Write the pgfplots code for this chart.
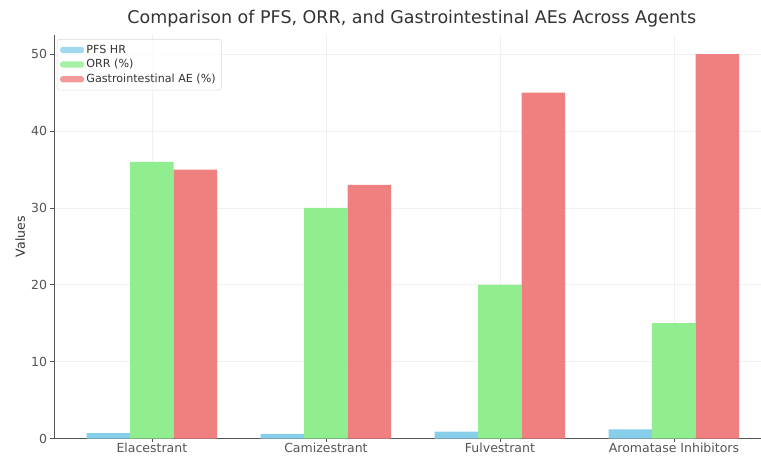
\documentclass[border=0pt]{standalone}
\usepackage{pgfplots}
\pgfplotsset{compat=1.18}
\usepackage{fontspec}
\setmainfont{DejaVu Sans}
\definecolor{pfs}{HTML}{87CEEB}
\definecolor{orr}{HTML}{90EE90}
\definecolor{gi}{HTML}{F08080}
\definecolor{spine}{HTML}{555555}
\definecolor{txt}{HTML}{333333}
\begin{document}
\begin{tikzpicture}
\begin{axis}[
  at={(0,0)}, anchor=south west,
  scale only axis,
  width=565.6pt, height=322.8pt,
  xmin=-0.5625, xmax=3.5,
  ymin=0, ymax=52.5,
  axis x line*=bottom, axis y line*=left,
  axis line style={spine, line width=0.8pt},
  xtick={0,1,2,3},
  xticklabels={Elacestrant,Camizestrant,Fulvestrant,Aromatase Inhibitors},
  ytick={0,10,20,30,40,50},
  tick style={spine, line width=0.6pt},
  tick align=outside,
  major tick length=3pt,
  every tick label/.style={font=\fontsize{10}{11}\selectfont, text=spine},
  xticklabel style={yshift=3pt, text depth=0pt},
  yticklabel style={xshift=1pt},
  /pgf/number format/assume math mode=true,
  ylabel={Values},
  ylabel style={font=\fontsize{10}{11}\selectfont, text=txt, yshift=-2pt},
  grid=major,
  major grid style={gray!12, line width=0.6pt},
  title={Comparison of PFS, ORR, and Gastrointestinal AEs Across Agents},
  title style={font=\fontsize{14}{16}\selectfont, text=txt, at={(rel axis cs:0.506,1)}, yshift=-3.5pt},
  ybar, bar width=0.25,
  legend cell align=left,
  legend style={at={(rel axis cs:0.004,0.99)}, anchor=north west,
    font=\fontsize{8.9}{10}\selectfont, text=txt,
    draw=gray!30, rounded corners=2pt, fill=white, fill opacity=0.8, text opacity=1,
    row sep=-0.5pt, inner sep=2.5pt},
  legend image code/.code={\path[#1,draw=none] (0pt,-2.5pt) rectangle (19pt,2.5pt);},
]
\addplot[fill=pfs, draw=none, bar shift=-0.25] coordinates {(0,0.7) (1,0.6) (2,0.9) (3,1.2)};
\addlegendentry{PFS HR}
\addplot[fill=orr, draw=none, bar shift=0] coordinates {(0,36) (1,30) (2,20) (3,15)};
\addlegendentry{ORR (\%)}
\addplot[fill=gi, draw=none, bar shift=0.25] coordinates {(0,35) (1,33) (2,45) (3,50)};
\addlegendentry{Gastrointestinal AE (\%)}
\end{axis}
\pgfresetboundingbox
\path[use as bounding box] (-43.2pt,-14pt) rectangle (565.6pt,350.8pt);
\end{tikzpicture}
\end{document}
